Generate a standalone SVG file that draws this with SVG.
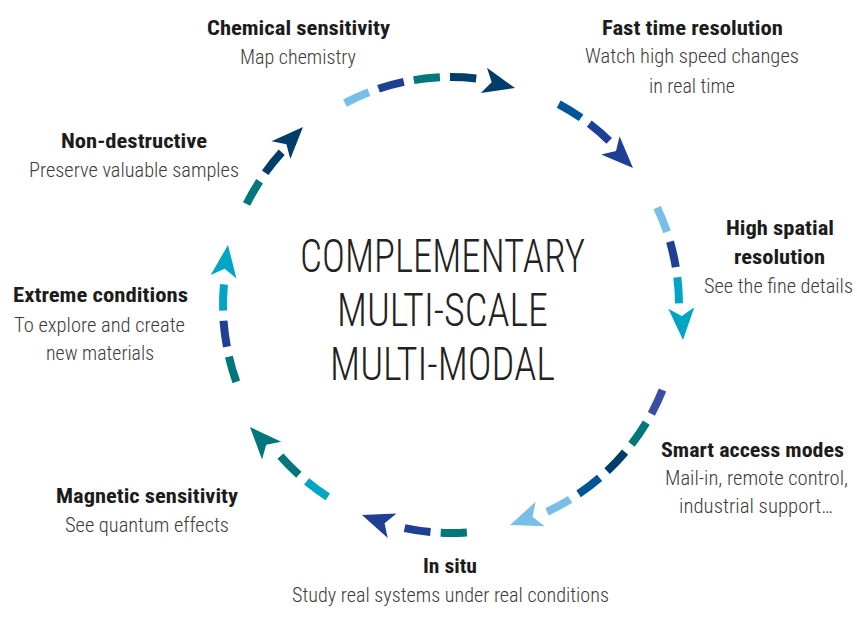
<svg xmlns="http://www.w3.org/2000/svg" xmlns:xlink="http://www.w3.org/1999/xlink" width="857" height="635" viewBox="0 0 857 635">
<style>
  .d{fill:none;stroke-width:8;stroke-linecap:butt}
  .lb{stroke:#78bfe8}.db{stroke:#1e3f94}.tl{stroke:#00777a}.nv{stroke:#003d6b}.cy{stroke:#00a5c6}.ig{stroke:#3a4fa2}.bl{stroke:#005596}
  .flb{fill:#78bfe8}.fdb{fill:#1e3f94}.ftl{fill:#00777a}.fnv{fill:#003d6b}.fcy{fill:#00a5c6}
  .t{font-family:"Roboto Condensed",Roboto,"Liberation Sans Narrow","Liberation Sans",sans-serif;font-size:21px;text-anchor:middle}
  .b{font-weight:700;fill:#1c1c1c}
  .l{font-weight:300;fill:#3c3c3c}
  .c{font-family:"Roboto Condensed",Roboto,"Liberation Sans Narrow","Liberation Sans",sans-serif;font-size:46px;font-weight:300;fill:#222;text-anchor:middle}
</style>
<defs>
  <polygon id="ah" points="0,0 -32,-13 -24,0 -32,13"/>
</defs>
<rect width="857" height="635" fill="#fff"/>
<g id="connectors">
  <g id="arc1">
    <path class="d lb" d="M345.0 103.1 A228 228 0 0 1 368.9 92.3"/>
    <path class="d db" d="M378.5 88.8 A228 228 0 0 1 403.8 81.9"/>
    <path class="d tl" d="M413.8 80.1 A228 228 0 0 1 439.9 77.3"/>
    <path class="d nv" d="M450.0 77.0 A228 228 0 0 1 476.2 78.4"/>
    <use xlink:href="#ah" class="fnv" transform="translate(515 88) rotate(13.6)"/>
  </g>
  <g id="arc2">
    <path class="d bl" d="M558.7 104.1 A228 228 0 0 1 581.1 117.8"/>
    <path class="d db" d="M589.3 123.7 A228 228 0 0 1 609.2 140.9"/>
    <use xlink:href="#ah" class="fdb" transform="translate(633 168) rotate(45)"/>
  </g>
  <g id="arc3">
    <path class="d lb" d="M657.1 207.6 A228 228 0 0 1 667.0 231.9"/>
    <path class="d db" d="M670.0 241.6 A228 228 0 0 1 675.8 267.2"/>
    <path class="d cy" d="M677.3 277.2 A228 228 0 0 1 679.0 303.4"/>
    <use xlink:href="#ah" class="fcy" transform="translate(683 340) rotate(87)"/>
  </g>
  <g id="arc4">
    <path class="d ig" d="M662.5 390.0 A228 228 0 0 1 651.4 413.8"/>
    <path class="d tl" d="M646.3 422.6 A228 228 0 0 1 631.5 444.3"/>
    <path class="d nv" d="M625.1 452.2 A228 228 0 0 1 607.1 471.2"/>
    <path class="d bl" d="M599.6 477.9 A228 228 0 0 1 578.6 493.9"/>
    <path class="d lb" d="M570.1 499.4 A228 228 0 0 1 547.0 511.8"/>
    <use xlink:href="#ah" class="flb" transform="translate(510 525) rotate(160)"/>
  </g>
  <g id="arc5">
    <path class="d tl" d="M466.9 532.4 A228 228 0 0 1 440.7 532.8"/>
    <path class="d db" d="M430.5 532.1 A228 228 0 0 1 404.6 528.2"/>
    <use xlink:href="#ah" class="fdb" transform="translate(362 515) rotate(199.8)"/>
  </g>
  <g id="arc6">
    <path class="d cy" d="M327.8 496.9 A228 228 0 0 1 306.6 481.4"/>
    <path class="d tl" d="M298.8 474.8 A228 228 0 0 1 280.4 456.2"/>
    <use xlink:href="#ah" class="ftl" transform="translate(250 427) rotate(227.5)"/>
  </g>
  <g id="arc7">
    <path class="d tl" d="M236.3 381.9 A228 228 0 0 1 228.9 356.7"/>
    <path class="d db" d="M226.9 346.7 A228 228 0 0 1 223.5 320.7"/>
    <path class="d cy" d="M223.1 310.6 A228 228 0 0 1 223.9 284.3"/>
    <use xlink:href="#ah" class="fcy" transform="translate(228 245) rotate(278)"/>
  </g>
  <g id="arc8">
    <path class="d tl" d="M246.6 204.0 A228 228 0 0 1 259.6 181.2"/>
    <path class="d nv" d="M265.2 172.8 A228 228 0 0 1 281.7 152.3"/>
    <use xlink:href="#ah" class="fnv" transform="translate(303 127) rotate(313.7)"/>
  </g>
</g>
<g id="center">
  <text class="c" x="442.5" y="272" textLength="285" lengthAdjust="spacingAndGlyphs">COMPLEMENTARY</text>
  <text class="c" x="442.5" y="326" textLength="211" lengthAdjust="spacingAndGlyphs">MULTI-SCALE</text>
  <text class="c" x="442.5" y="380" textLength="225" lengthAdjust="spacingAndGlyphs">MULTI-MODAL</text>
</g>
<g id="chemical">
  <text class="t b" x="298.5" y="35" textLength="183" lengthAdjust="spacingAndGlyphs">Chemical sensitivity</text>
  <text class="t l" x="298" y="64" textLength="116" lengthAdjust="spacingAndGlyphs">Map chemistry</text>
</g>
<g id="fast">
  <text class="t b" x="692.5" y="35" textLength="181" lengthAdjust="spacingAndGlyphs">Fast time resolution</text>
  <text class="t l" x="692" y="63" textLength="214" lengthAdjust="spacingAndGlyphs">Watch high speed changes</text>
  <text class="t l" x="692" y="93" textLength="86" lengthAdjust="spacingAndGlyphs">in real time</text>
</g>
<g id="spatial">
  <text class="t b" x="780" y="235" textLength="108" lengthAdjust="spacingAndGlyphs">High spatial</text>
  <text class="t b" x="779.5" y="264" textLength="91" lengthAdjust="spacingAndGlyphs">resolution</text>
  <text class="t l" x="778.5" y="293" textLength="149" lengthAdjust="spacingAndGlyphs">See the fine details</text>
</g>
<g id="smart">
  <text class="t b" x="752.5" y="457" textLength="183" lengthAdjust="spacingAndGlyphs">Smart access modes</text>
  <text class="t l" x="756.5" y="485" textLength="183" lengthAdjust="spacingAndGlyphs">Mail-in, remote control,</text>
  <text class="t l" x="756" y="513" textLength="154" lengthAdjust="spacingAndGlyphs">industrial support…</text>
</g>
<g id="insitu">
  <text class="t b" x="450" y="573" textLength="54" lengthAdjust="spacingAndGlyphs">In situ</text>
  <text class="t l" x="450.5" y="602" textLength="317" lengthAdjust="spacingAndGlyphs">Study real systems under real conditions</text>
</g>
<g id="magnetic">
  <text class="t b" x="147" y="503" textLength="182" lengthAdjust="spacingAndGlyphs">Magnetic sensitivity</text>
  <text class="t l" x="147" y="532" textLength="164" lengthAdjust="spacingAndGlyphs">See quantum effects</text>
</g>
<g id="extreme">
  <text class="t b" x="100.5" y="302" textLength="175" lengthAdjust="spacingAndGlyphs">Extreme conditions</text>
  <text class="t l" x="99.5" y="332" textLength="171" lengthAdjust="spacingAndGlyphs">To explore and create</text>
  <text class="t l" x="100" y="360" textLength="108" lengthAdjust="spacingAndGlyphs">new materials</text>
</g>
<g id="nondestructive">
  <text class="t b" x="134" y="148" textLength="146" lengthAdjust="spacingAndGlyphs">Non-destructive</text>
  <text class="t l" x="134" y="177" textLength="210" lengthAdjust="spacingAndGlyphs">Preserve valuable samples</text>
</g>
</svg>
